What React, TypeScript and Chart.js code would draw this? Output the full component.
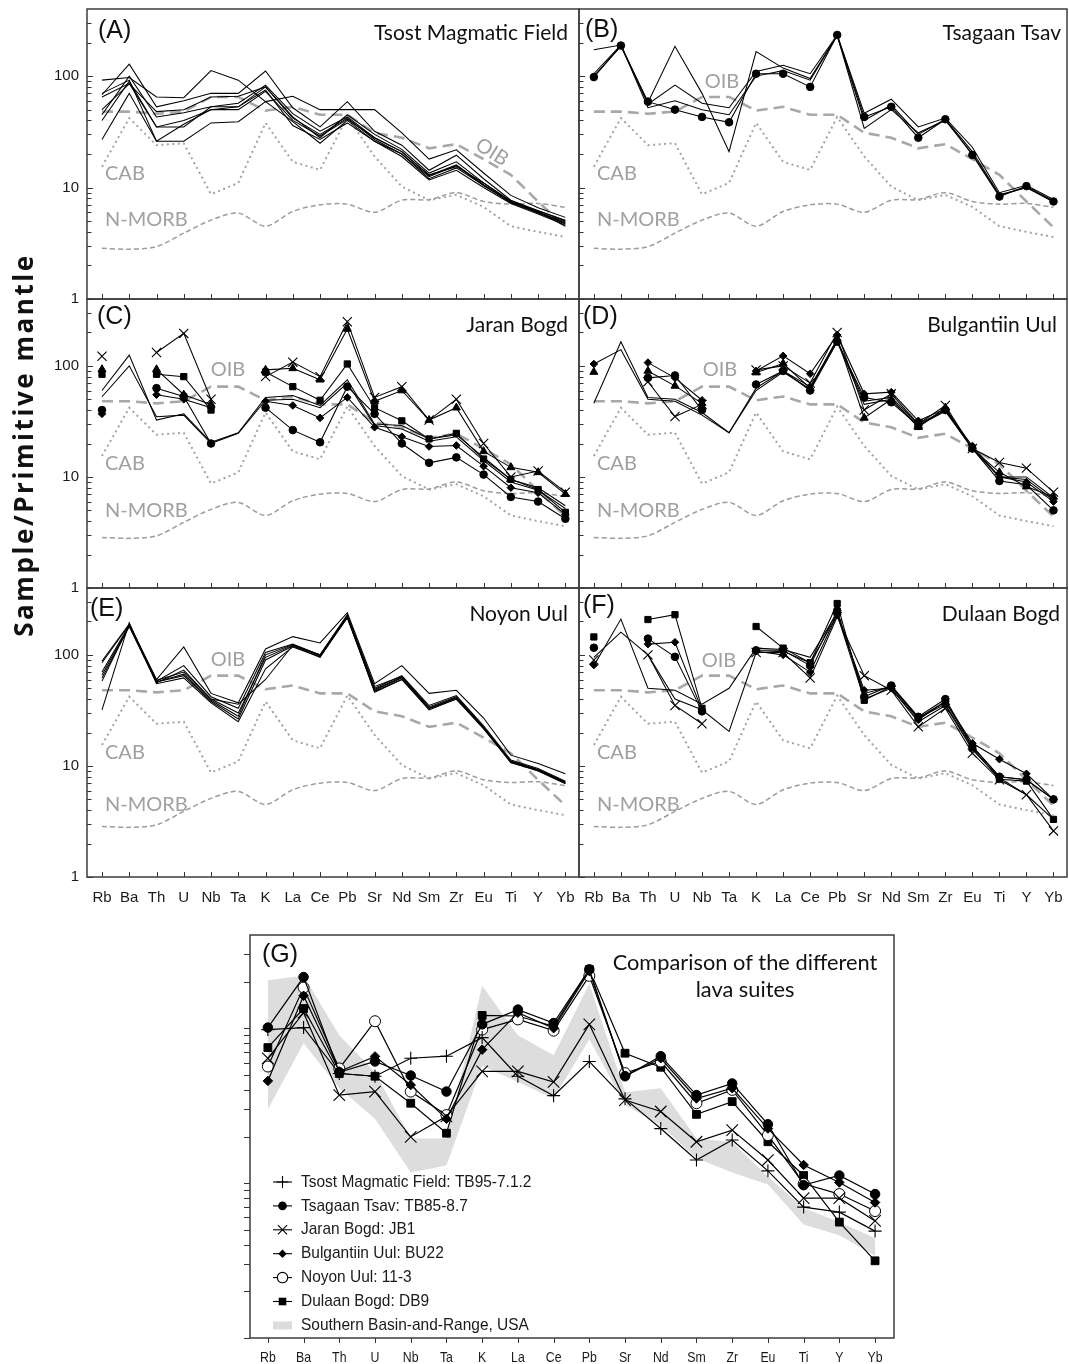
import React, { useEffect, useLayoutEffect, useRef } from 'react';
import { Chart, registerables } from 'chart.js';

Chart.register(...registerables);

// ---------------- DATA ----------------
const ELEMENTS = ['Rb', 'Ba', 'Th', 'U', 'Nb', 'Ta', 'K', 'La', 'Ce', 'Pb', 'Sr', 'Nd', 'Sm', 'Zr', 'Eu', 'Ti', 'Y', 'Yb'];
const Y_LABEL_VALUES = [1, 10, 100];

// reference patterns (primitive-mantle normalised)
const OIB = [48, 48, 46, 48, 65, 65, 49, 53, 45, 45, 31, 28, 22.5, 24.5, 18, 13, 7.5, 4.4];
const CAB = [15.4, 42, 24, 25, 8.7, 11, 38, 17, 14.4, 43, 19, 10.2, 7.7, 8.6, 6.7, 4.5, 4.0, 3.6];
const N_MORB = [2.85, 2.8, 2.95, 3.9, 5.1, 5.9, 4.5, 6.1, 7.0, 7.1, 6.0, 7.7, 7.8, 9.0, 7.5, 7.1, 7.2, 6.65];

// (A) Tsost Magmatic Field
const TSOST_1 = [92, 97, 65, 64, 112, 92, 59, 66, 50, 50, 50, 31, 18, 21.8, 13.5, 8.5, 6.6, 5.4];
const TSOST_2 = [68, 128, 53, 60, 70, 70, 111, 52, 35, 59, 32, 24, 14.3, 19.5, 12, 7.7, 6.2, 5.0];
const TSOST_3 = [45, 100, 43, 47, 53, 57, 83, 46, 32, 43, 28, 21, 13, 15.4, 11, 7.5, 6.0, 4.8];
const TSOST_4 = [65, 86, 35, 35, 53, 53, 80, 42, 30, 42, 27, 20, 12, 15, 10.5, 7.3, 5.9, 4.7];
const TSOST_5 = [27, 70, 26, 26, 38, 39, 59, 39, 25, 40, 26, 19, 11.7, 14.3, 10, 7.2, 5.8, 4.6];
const TSOST_6 = [40, 90, 35, 40, 50, 53, 75, 36, 27, 38, 26, 20, 12.5, 15.8, 10.4, 7.4, 6.1, 4.5];
const TSOST_7 = [50, 85, 48, 50, 65, 66, 80, 43, 28, 45, 30, 22, 13.5, 17, 11, 7.6, 6.2, 5.1];
const TSOST_8 = [70, 92, 26, 37, 50, 50, 73, 40, 29, 41, 28, 21, 12.8, 16, 10.6, 7.5, 6.0, 4.9];

// (B) Tsagaan Tsav
const TSAGAAN_1 = [98, 188, 59, 50, 43, 38.5, 105, 105, 80, 234, 43, 53, 28, 41, 19.6, 8.3, 10.3, 7.5];
const TSAGAAN_2 = [100, 185, 58, 185, 70, 21, 166, 118, 95, 232, 34, 50, 31, 40, 20, 8.5, 10, 7.4];
const TSAGAAN_3 = [105, 190, 56, 83, 57, 52, 110, 125, 105, 234, 46.5, 62, 35, 42, 23, 9, 10.5, 7.8];
const TSAGAAN_4 = [172, 190, 52, 60, 50, 45, 100, 112, 92, 230, 40, 55, 30, 41, 21, 8.6, 10, 7.6];

// (C) Jaran Bogd
const JARAN_THIN_1 = [60, 125, 32.5, 37, 20.5, 25, 52, 54, 44, 75, 30, 29, 22, 24, 15, 9.5, 8, 5.5];
const JARAN_THIN_2 = [52.7, 100, 34.8, 36, 20, 24.7, 49, 50, 42, 70, 29, 27, 21, 23, 14, 9, 7.6, 5.2];
const JARAN_X = [122, null, 132, 196, 50, null, 80, 108, 80, 250, 52, 65, 32.5, 50, 20, 10, 11.3, 7.3];
const JARAN_TRI = [93, null, 93, 55, 45, null, 92, 95, 75, 215, 48, 60, 32.5, 42, 17, 12.2, 11, 7];
const JARAN_SQ = [84, null, 84, 80, 40, null, 88, 65, 49, 104, 42, 32, 22, 24.7, 14.5, 9.5, 7.7, 4.8];
const JARAN_CIRC = [40, null, 63, 53, 20, null, 42, 26.4, 20.5, 65, 37, 20, 13.4, 15, 10.5, 6.6, 6, 4.2];
const JARAN_DIA = [37, null, 55, 50, 42, null, 48, 44, 34, 52, 28, 23, 18.8, 19.2, 12.5, 8, 7.2, 4.6];

// (D) Bulgantiin Uul
const BULGA_THIN_1 = [46, 165, 52, 50, 38, 25, 63, 90, 65, 170, 48, 52, 30, 40, 18, 10, 10, 6.5];
const BULGA_THIN_2 = [104, 140, 50, 48, 36, 25, 60, 88, 62, 165, 45, 50, 29, 39, 18, 10, 9.5, 6.2];
const BULGA_DIA = [104, null, 107, 78, 49, null, 90, 123, 85, 190, 56, 58, 32, 41, 19, 10, 9, 6];
const BULGA_TRI = [88, null, 90, 66, 46, null, 87, 105, 63, 175, 34, 50, 28, 42, 18, 11, 8.2, 6.6];
const BULGA_X = [null, null, 72, 35, 45, null, 92, 100, 70, 200, 40, 56, 30, 44, 18, 13.5, 12, 7.3];
const BULGA_CIRC = [null, null, 78, 82, 40, null, 68, 90, 60, 165, 52, 47, 29, 40, 18, 9.2, 8.5, 5];

// (E) Noyon Uul
const NOYON_1 = [88, 190, 60, 118, 45, 37, 113, 146, 128, 240, 55, 80, 45, 48, 27, 12.5, 10.5, 8.5];
const NOYON_2 = [70, 185, 58, 80, 42, 33, 105, 125, 100, 225, 50, 65, 35, 43, 23, 11.3, 9.5, 7.3];
const NOYON_3 = [62, 180, 56, 73, 40, 30, 95, 122, 98, 215, 48, 62, 33, 41, 22, 11, 9.2, 7];
const NOYON_4 = [58, 185, 57, 65, 38, 26.5, 90, 120, 95, 218, 47, 60, 32, 40, 21.5, 10.8, 9.0, 6.9];
const NOYON_5 = [32, 195, 55, 62, 37, 25, 75, 118, 96, 222, 46, 60, 33, 40, 22, 10.7, 9.1, 7];
const NOYON_6 = [85, 188, 59, 70, 40, 36, 60, 122, 100, 230, 52, 64, 34, 42, 22.5, 11, 9.3, 7.2];
const NOYON_7 = [66, 182, 57, 67, 39, 28, 100, 124, 99, 220, 49, 63, 33, 41, 22, 11, 9.2, 7.1];

// (F) Dulaan Bogd
const DULAAN_THIN_1 = [80, 210, 50, 48, 36, 50, 115, 112, 95, 240, 45, 52, 27, 38, 15, 8, 7.5, 5];
const DULAAN_THIN_2 = [95, 160, 100, 40, 32, 20.5, 105, 108, 85, 230, 40, 50, 25, 35, 14, 7.8, 5.5, 3.3];
const DULAAN_SQ = [145, null, 208, 230, 33, null, 180, 115, 85, 290, 39, 52, 27, 36, 14.5, 7.6, 7.3, 3.3];
const DULAAN_CIRC = [116, null, 140, 96, 31, null, 110, 110, 80, 250, 42, 53, 27.7, 40, 15, 8, 7.5, 5];
const DULAAN_DIA = [81, null, 125, 130, 32, null, 108, 100, 70, 230, 48, 50, 26, 38, 16, 11.5, 8.5, 5];
const DULAAN_X = [90, null, 100, 35, 24, null, 105, 105, 62, 220, 65, 48, 22.5, 33, 13, 7.5, 5.5, 2.6];

// (G) comparison
const G_TSOST = [98, 101, 51, 49, 64, 66, 87, 49, 36.7, 61, 35, 22.5, 14.1, 19, 12, 7, 6.5, 4.9];
const G_TSAGAAN = [101, 214, 52, 61, 49.5, 39, 106, 132, 108, 240, 49, 66, 37, 44, 24, 9.7, 11.2, 8.5];
const G_JARAN = [64, 126, 37, 39, 19.9, 27, 52.6, 52.6, 45, 106, 34.4, 29, 18.5, 22, 14.1, 8, 8, 5.7];
const G_BULGA = [45.7, 162, 52.6, 65.8, 43, 26, 72.7, 126, 100, 234, 49, 64, 35.2, 41, 22.5, 13.1, 10.1, 7.5];
const G_NOYON = [56.6, 183, 55, 111, 39, 27.5, 98, 114, 96.5, 218, 51.3, 61, 32.8, 40, 20.4, 9.9, 8.5, 6.6];
const G_DULAAN = [75, 134, 51, 49, 32.8, 21, 121, 120, 103, 240, 69, 56, 27.8, 33.6, 18.5, 11.2, 5.6, 3.15];
const G_SBR_UPPER = [204, 218, 90, 52, 19.4, 19.4, 188, 90, 67, 194, 38.6, 41, 19.4, 18.4, 11, 6.9, 5.6, 4.4];
const G_SBR_LOWER = [30, 80, 41, 26, 11.7, 13, 57, 45, 35, 85, 32, 23.6, 14.5, 11.7, 9.8, 5.4, 4.6, 3.4];

const G_LEGEND = [
  'Tsost Magmatic Field: TB95-7.1.2',
  'Tsagaan Tsav: TB85-8.7',
  'Jaran Bogd: JB1',
  'Bulgantiin Uul: BU22',
  'Noyon Uul: 11-3',
  'Dulaan Bogd: DB9',
  'Southern Basin-and-Range, USA',
];

// ---------------- STYLE / LAYOUT ----------------
type Marker = 'none' | 'circle' | 'openCircle' | 'cross' | 'crossRot' | 'triangle' | 'rect' | 'rectRot';
interface Series { data: (number | null)[]; marker: Marker }

const SANS = '"Liberation Sans", Arial, sans-serif';
const CAL = 'Lato, "Open Sans", sans-serif';
const GRAY_TXT = '#a0a0a0';

const Y_MAX = 400;
const Y_TICKS: number[] = [];
for (let d = 1; d <= 100; d *= 10) for (let k = 1; k <= 9; k++) if (d * k < Y_MAX) Y_TICKS.push(d * k);

const pts = (arr: (number | null)[]) => arr.map((v, i) => ({ x: i, y: v }));

function markerOpts(m: Marker, big: boolean) {
  const s = big ? 1.25 : 1;
  switch (m) {
    case 'circle':
      return { pointStyle: 'circle', pointRadius: 3.8 * s, pointBackgroundColor: '#000', pointBorderColor: '#000', pointBorderWidth: 1 };
    case 'openCircle':
      return { pointStyle: 'circle', pointRadius: 5.5, pointBackgroundColor: '#fff', pointBorderColor: '#000', pointBorderWidth: 1 };
    case 'cross':
      return { pointStyle: 'cross', pointRadius: 6.5, pointBorderColor: '#000', pointBorderWidth: 1.1 };
    case 'crossRot':
      return { pointStyle: 'crossRot', pointRadius: 6.5 * s, pointBorderColor: '#000', pointBorderWidth: 1.1 };
    case 'triangle':
      return { pointStyle: 'triangle', pointRadius: 4.6, pointBackgroundColor: '#000', pointBorderColor: '#000', pointBorderWidth: 1 };
    case 'rect':
      return { pointStyle: 'rect', pointRadius: 4.4 * s, pointBackgroundColor: '#000', pointBorderColor: '#000', pointBorderWidth: 1 };
    case 'rectRot':
      return { pointStyle: 'rectRot', pointRadius: 3.8 * s, pointBackgroundColor: '#000', pointBorderColor: '#000', pointBorderWidth: 1 };
    default:
      return { pointRadius: 0 };
  }
}

interface PanelSpec {
  letter: string;
  title: string[];
  rect: { L: number; T: number; R: number; B: number };
  series: Series[];
  refs: boolean;
  yLabels: boolean;
  xLabels: boolean;
  letterPos: [number, number];
  titlePos: [number, number];
  titleAlign: 'right' | 'center';
  oib?: [number, number, number];
  nmorbY?: number;
  outward?: boolean;
  legend?: boolean;
  xmin: number;
  xmax: number;
  big?: boolean;
}

const COL_L = { L: 87, R: 579 };
const COL_R = { L: 579, R: 1067 };
const ROW = [{ T: 9, B: 299 }, { T: 299, B: 588 }, { T: 588, B: 877 }];

const S = (data: (number | null)[], marker: Marker = 'none'): Series => ({ data, marker });

const PANELS: PanelSpec[] = [
  {
    letter: '(A)', title: ['Tsost Magmatic Field'], rect: { ...COL_L, ...ROW[0] },
    series: [S(TSOST_1), S(TSOST_2), S(TSOST_3), S(TSOST_4), S(TSOST_5), S(TSOST_6), S(TSOST_7), S(TSOST_8)],
    refs: true, yLabels: true, xLabels: false, letterPos: [11, 22], titlePos: [-11, 24], titleAlign: 'right',
    oib: [405, 143, 32], nmorbY: 211, xmin: -0.55, xmax: 17.5,
  },
  {
    letter: '(B)', title: ['Tsagaan Tsav'], rect: { ...COL_R, ...ROW[0] },
    series: [S(TSAGAAN_1, 'circle'), S(TSAGAAN_2), S(TSAGAAN_3), S(TSAGAAN_4)],
    refs: true, yLabels: false, xLabels: false, letterPos: [6, 21], titlePos: [-6, 24], titleAlign: 'right',
    oib: [143, 73, 0], nmorbY: 211, xmin: -0.55, xmax: 17.5,
  },
  {
    letter: '(C)', title: ['Jaran Bogd'], rect: { ...COL_L, ...ROW[1] },
    series: [S(JARAN_X, 'crossRot'), S(JARAN_TRI, 'triangle'), S(JARAN_SQ, 'rect'), S(JARAN_CIRC, 'circle'), S(JARAN_DIA, 'rectRot'), S(JARAN_THIN_1), S(JARAN_THIN_2)],
    refs: true, yLabels: true, xLabels: false, letterPos: [10, 18], titlePos: [-11, 26], titleAlign: 'right',
    oib: [141, 71, 0], nmorbY: 212, xmin: -0.55, xmax: 17.5,
  },
  {
    letter: '(D)', title: ['Bulgantiin Uul'], rect: { ...COL_R, ...ROW[1] },
    series: [S(BULGA_DIA, 'rectRot'), S(BULGA_TRI, 'triangle'), S(BULGA_X, 'crossRot'), S(BULGA_CIRC, 'circle'), S(BULGA_THIN_1), S(BULGA_THIN_2)],
    refs: true, yLabels: false, xLabels: false, letterPos: [4, 18], titlePos: [-10, 26], titleAlign: 'right',
    oib: [141, 71, 0], nmorbY: 212, xmin: -0.55, xmax: 17.5,
  },
  {
    letter: '(E)', title: ['Noyon Uul'], rect: { ...COL_L, ...ROW[2] },
    series: [S(NOYON_1), S(NOYON_2), S(NOYON_3), S(NOYON_4), S(NOYON_5), S(NOYON_6), S(NOYON_7)],
    refs: true, yLabels: true, xLabels: true, letterPos: [3, 21], titlePos: [-11, 26], titleAlign: 'right',
    oib: [141, 72, 0], nmorbY: 217, xmin: -0.55, xmax: 17.5,
  },
  {
    letter: '(F)', title: ['Dulaan Bogd'], rect: { ...COL_R, ...ROW[2] },
    series: [S(DULAAN_SQ, 'rect'), S(DULAAN_CIRC, 'circle'), S(DULAAN_DIA, 'rectRot'), S(DULAAN_X, 'crossRot'), S(DULAAN_THIN_1), S(DULAAN_THIN_2)],
    refs: true, yLabels: false, xLabels: true, letterPos: [4, 18], titlePos: [-7, 26], titleAlign: 'right',
    oib: [140, 73, 0], nmorbY: 217, xmin: -0.55, xmax: 17.5,
  },
  {
    letter: '(G)', title: ['Comparison of the different', 'lava suites'], rect: { L: 250, T: 935, R: 894, B: 1338 },
    series: [S(G_TSOST, 'cross'), S(G_TSAGAAN, 'circle'), S(G_JARAN, 'crossRot'), S(G_BULGA, 'rectRot'), S(G_NOYON, 'openCircle'), S(G_DULAAN, 'rect')],
    refs: false, yLabels: false, xLabels: true, letterPos: [12, 20], titlePos: [495, 28], titleAlign: 'center',
    outward: true, legend: true, xmin: -0.5, xmax: 17.53, big: true,
  },
];

const LEGEND_MARKERS: Marker[] = ['cross', 'circle', 'crossRot', 'rectRot', 'openCircle', 'rect'];

function drawMarker(ctx: CanvasRenderingContext2D, m: Marker, x: number, y: number) {
  ctx.save();
  ctx.strokeStyle = '#000';
  ctx.fillStyle = '#000';
  ctx.lineWidth = 1.1;
  ctx.beginPath();
  if (m === 'circle') { ctx.arc(x, y, 4.3, 0, Math.PI * 2); ctx.fill(); }
  else if (m === 'openCircle') { ctx.arc(x, y, 5.2, 0, Math.PI * 2); ctx.fillStyle = '#fff'; ctx.fill(); ctx.stroke(); }
  else if (m === 'cross') { ctx.moveTo(x - 6, y); ctx.lineTo(x + 6, y); ctx.moveTo(x, y - 6); ctx.lineTo(x, y + 6); ctx.stroke(); }
  else if (m === 'crossRot') { ctx.moveTo(x - 4.6, y - 4.6); ctx.lineTo(x + 4.6, y + 4.6); ctx.moveTo(x + 4.6, y - 4.6); ctx.lineTo(x - 4.6, y + 4.6); ctx.stroke(); }
  else if (m === 'rectRot') { ctx.moveTo(x, y - 4.2); ctx.lineTo(x + 4.2, y); ctx.lineTo(x, y + 4.2); ctx.lineTo(x - 4.2, y); ctx.closePath(); ctx.fill(); }
  else if (m === 'rect') { ctx.rect(x - 3.8, y - 3.8, 7.6, 7.6); ctx.fill(); }
  ctx.restore();
}

function narrowText(ctx: CanvasRenderingContext2D, t: string, x: number, y: number, k: number) {
  const w = ctx.measureText(t).width;
  ctx.fillText(t, x, y, w * k);
}

function makeDecor(spec: PanelSpec) {
  return {
    id: 'decor',
    afterDraw(chart: any) {
      const ctx: CanvasRenderingContext2D = chart.ctx;
      const ca = chart.chartArea;
      const xs = chart.scales.x;
      const ys = chart.scales.y;
      ctx.save();
      // tick marks
      ctx.strokeStyle = '#333';
      ctx.lineWidth = 1;
      const dir = spec.outward ? -1 : 1;
      for (const v of Y_TICKS) {
        const y = Math.round(ys.getPixelForValue(v)) + 0.5;
        if (y <= ca.top + 2) continue;
        const major = v === 1 || v === 10 || v === 100;
        const len = spec.outward ? 6 : (major ? 6 : 4.5);
        ctx.beginPath();
        ctx.moveTo(ca.left, y);
        ctx.lineTo(ca.left + dir * len, y);
        ctx.stroke();
      }
      for (let i = 0; i < ELEMENTS.length; i++) {
        const x = Math.round(xs.getPixelForValue(i)) + 0.5;
        ctx.beginPath();
        ctx.moveTo(x, ca.bottom);
        ctx.lineTo(x, ca.bottom - dir * 5);
        ctx.stroke();
      }
      // frame
      ctx.strokeStyle = '#3c3c3c';
      ctx.lineWidth = 1.5;
      ctx.strokeRect(ca.left, ca.top, ca.right - ca.left, ca.bottom - ca.top);

      // tick labels
      ctx.fillStyle = '#1a1a1a';
      if (spec.yLabels) {
        ctx.font = `15px ${SANS}`;
        ctx.textAlign = 'right';
        ctx.textBaseline = 'middle';
        for (const v of Y_LABEL_VALUES) ctx.fillText(String(v), ca.left - 8, ys.getPixelForValue(v));
      }
      if (spec.xLabels) {
        ctx.font = `15px ${SANS}`;
        ctx.textAlign = 'center';
        ctx.textBaseline = 'middle';
        for (let i = 0; i < ELEMENTS.length; i++) {
          const x = xs.getPixelForValue(i);
          if (spec.big) narrowText(ctx, ELEMENTS[i], x, ca.bottom + 20, 0.82);
          else ctx.fillText(ELEMENTS[i], x, ca.bottom + 21);
        }
      }

      // panel letter
      ctx.fillStyle = '#111';
      ctx.font = `25px ${SANS}`;
      ctx.textAlign = 'left';
      ctx.textBaseline = 'middle';
      ctx.fillText(spec.letter, ca.left + spec.letterPos[0], ca.top + spec.letterPos[1]);

      // title
      if (spec.titleAlign === 'right') {
        ctx.font = `21px ${CAL}`;
        ctx.textAlign = 'right';
        ctx.fillText(spec.title[0], ca.right + spec.titlePos[0], ca.top + spec.titlePos[1]);
      } else {
        ctx.font = `21.8px ${CAL}`;
        ctx.textAlign = 'center';
        spec.title.forEach((t, i) => ctx.fillText(t, ca.left + spec.titlePos[0], ca.top + spec.titlePos[1] + i * 27));
      }

      // reference labels
      if (spec.refs) {
        ctx.fillStyle = GRAY_TXT;
        ctx.font = `20px ${CAL}`;
        ctx.textAlign = 'left';
        ctx.fillText('CAB', ca.left + 18, ca.top + 165);
        ctx.fillText('N-MORB', ca.left + 18, ca.top + (spec.nmorbY || 212));
        if (spec.oib) {
          const [ox, oy, rot] = spec.oib;
          ctx.save();
          ctx.translate(ca.left + ox, ca.top + oy);
          ctx.rotate((rot * Math.PI) / 180);
          ctx.textAlign = 'center';
          ctx.fillText('OIB', 0, 0);
          ctx.restore();
        }
      }

      // legend (G)
      if (spec.legend) {
        ctx.font = `17px ${SANS}`;
        ctx.textAlign = 'left';
        ctx.textBaseline = 'middle';
        G_LEGEND.forEach((label, i) => {
          const y = ca.top + 247 + i * 23.9;
          const x0 = ca.left + 23;
          const x1 = ca.left + 42;
          if (i < LEGEND_MARKERS.length) {
            ctx.strokeStyle = '#000';
            ctx.lineWidth = 1.1;
            ctx.beginPath();
            ctx.moveTo(x0, y);
            ctx.lineTo(x1, y);
            ctx.stroke();
            drawMarker(ctx, LEGEND_MARKERS[i], (x0 + x1) / 2, y);
          } else {
            ctx.fillStyle = '#dcdcdc';
            ctx.fillRect(x0, y - 4, x1 - x0, 8);
          }
          ctx.fillStyle = '#1a1a1a';
          narrowText(ctx, label, ca.left + 51, y, 0.91);
        });
      }
      ctx.restore();
    },
  };
}

function buildConfig(spec: PanelSpec, pad: { left: number; right: number; top: number; bottom: number }) {
  const datasets: any[] = [];
  spec.series.forEach((s, i) => {
    datasets.push({
      label: `s${i}`,
      data: pts(s.data),
      borderColor: '#000',
      borderWidth: spec.big ? 1.2 : 1.05,
      tension: 0,
      spanGaps: false,
      order: 1,
      ...markerOpts(s.marker, !!spec.big),
    });
  });
  if (spec.refs) {
    datasets.push({ label: 'OIB', data: pts(OIB), borderColor: '#a8a8a8', borderWidth: 2.6, borderDash: [11, 6], pointRadius: 0, tension: 0, order: 5 });
    datasets.push({ label: 'CAB', data: pts(CAB), borderColor: '#a3a3a3', borderWidth: 2, borderDash: [2, 3.5], pointRadius: 0, tension: 0, order: 5 });
    datasets.push({ label: 'N-MORB', data: pts(N_MORB), borderColor: '#9c9c9c', borderWidth: 1.5, borderDash: [5, 3], pointRadius: 0, tension: 0.3, order: 5 });
  }
  if (spec.legend) {
    datasets.push({ label: 'SBR upper', data: pts(G_SBR_UPPER), borderColor: 'rgba(0,0,0,0)', borderWidth: 0, pointRadius: 0, fill: '+1', backgroundColor: '#dddddd', tension: 0, order: 9 });
    datasets.push({ label: 'SBR lower', data: pts(G_SBR_LOWER), borderColor: 'rgba(0,0,0,0)', borderWidth: 0, pointRadius: 0, fill: false, tension: 0, order: 9 });
  }
  return {
    type: 'line' as const,
    data: { datasets },
    options: {
      animation: false as const,
      responsive: false,
      devicePixelRatio: 1,
      events: [],
      layout: { padding: pad, autoPadding: false },
      plugins: { legend: { display: false }, tooltip: { enabled: false } },
      scales: {
        x: { type: 'linear' as const, min: spec.xmin, max: spec.xmax, display: false },
        y: { type: 'logarithmic' as const, min: 1, max: Y_MAX, display: false },
      },
    },
    plugins: [makeDecor(spec)],
  };
}

function Panel({ spec }: { spec: PanelSpec }) {
  const ref = useRef<HTMLCanvasElement | null>(null);
  const r = spec.rect;
  const ml = spec.yLabels ? r.L : spec.legend ? 40 : 12;
  const mr = spec.legend ? 20 : 2;
  const mt = 9;
  const mb = spec.xLabels ? 34 : 12;
  const left = r.L - ml;
  const top = r.T - mt;
  const width = r.R - r.L + ml + mr;
  const height = r.B - r.T + mt + mb;
  useEffect(() => {
    if (!ref.current) return;
    const chart = new Chart(ref.current, buildConfig(spec, { left: ml, right: mr, top: mt, bottom: mb }) as any);
    return () => chart.destroy();
  }, []);
  return (
    <canvas
      ref={ref}
      width={width}
      height={height}
      style={{ position: 'absolute', left, top, width, height }}
    />
  );
}

const Y_TITLE = 'Sample/Primitive mantle';
const Y_TITLE_LENGTH = 384;

function YTitle() {
  const ref = useRef<HTMLSpanElement | null>(null);
  useLayoutEffect(() => {
    const el = ref.current;
    if (!el) return;
    el.style.letterSpacing = '0px';
    const w = el.offsetWidth;
    const n = Y_TITLE.length;
    const ls = Math.max(-2, Math.min(3, (Y_TITLE_LENGTH - w) / n));
    el.style.letterSpacing = `${ls}px`;
  }, []);
  return (
    <div
      style={{
        position: 'absolute',
        left: 25 - 250,
        top: 445 - 20,
        width: 500,
        height: 40,
        lineHeight: '40px',
        textAlign: 'center',
        transform: 'rotate(-90deg)',
        color: '#111',
        whiteSpace: 'nowrap',
      }}
    >
      <span ref={ref} style={{ display: 'inline-block', font: `bold 26px "Open Sans", Lato, sans-serif` }}>{Y_TITLE}</span>
    </div>
  );
}

export default function App() {
  return (
    <div style={{ position: 'absolute', left: 0, top: 0, width: 1069, height: 1364, background: '#fff', overflow: 'hidden' }}>
      {PANELS.map((p) => (
        <Panel key={p.letter} spec={p} />
      ))}
      <YTitle />
    </div>
  );
}
